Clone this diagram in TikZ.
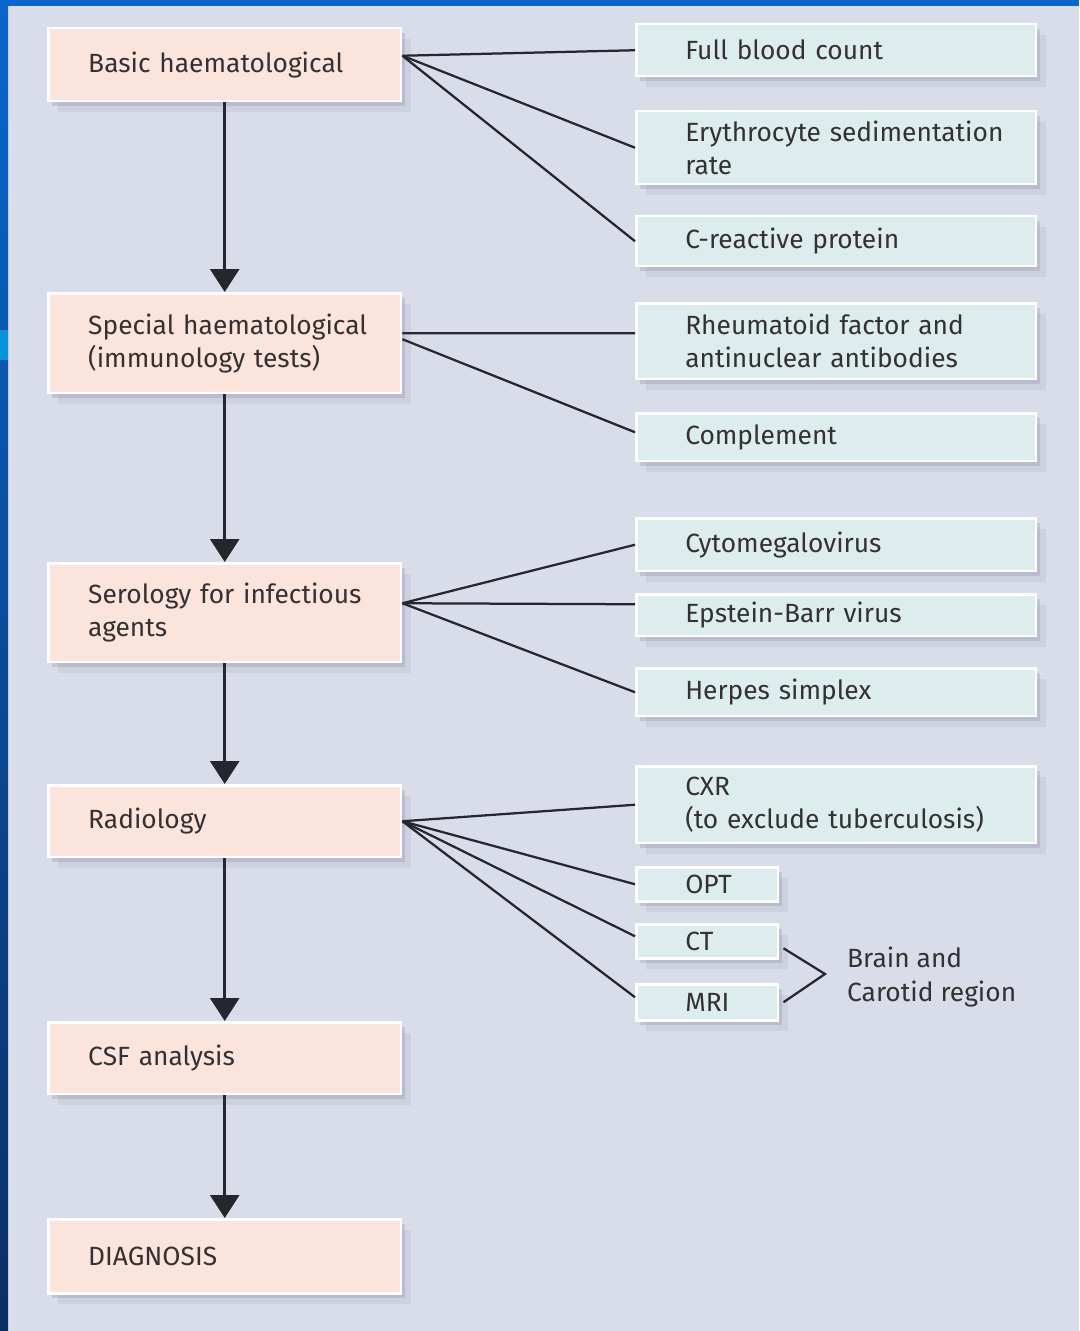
\documentclass[tikz,border=0pt]{standalone}
\usepackage{fontspec}
\setmainfont{Fira Sans}
\usetikzlibrary{arrows.meta,shadows}
\definecolor{slide}{HTML}{D9DDEA}
\definecolor{slideblue}{HTML}{0A66CC}
\definecolor{slidenavy}{HTML}{0B2F63}
\definecolor{peach}{HTML}{FBE4DC}
\definecolor{mint}{HTML}{DDEDEE}
\definecolor{textgrey}{HTML}{343033}
\definecolor{linegrey}{HTML}{26262E}
\definecolor{shade}{HTML}{8A8FA6}

\begin{document}
\begin{tikzpicture}[x=0.02cm, y=-0.02cm, > = {Triangle[width=0.58cm,length=0.46cm]},
    box/.style = {draw=white, line width=0.05cm, anchor=north west, align=left, inner ysep=0.05cm, text=textgrey, font=\fontsize{15}{18.8}\selectfont,
        drop shadow={shadow xshift=0.08cm, shadow yshift=-0.1cm, fill=shade, opacity=0.3},
        drop shadow={shadow xshift=0.2cm, shadow yshift=-0.22cm, fill=shade, opacity=0.15}},
    test/.style = {box, fill=peach, minimum width=7.06cm, text width=5.46cm, inner xsep=0.8cm},
    result/.style = {box, fill=mint, minimum width=8cm, text width=6.04cm, inner xsep=0.98cm},
    scan/.style = {box, fill=mint, minimum width=2.84cm, text width=0.88cm, inner xsep=0.98cm},
    flow/.style = {line width=0.06cm, draw=linegrey, fill=linegrey, ->},
    link/.style = {line width=0.045cm, draw=linegrey}]

    % slide
    \useasboundingbox (0,0) rectangle (1079,1331);
    \fill[slide] (0,0) rectangle (1079,1331);
    \fill[top color=slideblue, bottom color=slidenavy] (0,0) rectangle (8,1331);
    \fill[slideblue!70!cyan] (0,330) rectangle (8,360);
    \fill[slideblue] (0,0) rectangle (1079,6);

    % tests
    \node[test, minimum height=1.46cm] (basic) at (47,27) {Basic haematological};
    \node[test, minimum height=2cm] (special) at (47,292) {\mbox{Special haematological}\\(immunology tests)};
    \node[test, minimum height=1.98cm] (serology) at (47,562) {\mbox{Serology for infectious}\\agents};
    \node[test, minimum height=1.44cm] (radiology) at (47,784) {Radiology};
    \node[test, minimum height=1.44cm] (csf) at (47,1021) {CSF analysis};
    \node[test, minimum height=1.48cm] (diagnosis) at (47,1218) {DIAGNOSIS};

    % results
    \node[result, minimum height=1.04cm] (fbc) at (635,23) {Full blood count};
    \node[result, minimum height=1.46cm] (esr) at (635,110) {\mbox{Erythrocyte sedimentation}\\rate};
    \node[result, minimum height=1cm] (crp) at (635,215) {C-reactive protein};
    \node[result, minimum height=1.52cm] (rf) at (635,302) {Rheumatoid factor and\\antinuclear antibodies};
    \node[result, minimum height=0.96cm] (complement) at (635,412) {Complement};
    \node[result, minimum height=1.06cm] (cmv) at (635,517) {Cytomegalovirus};
    \node[result, minimum height=0.84cm] (ebv) at (635,593) {Epstein-Barr virus};
    \node[result, minimum height=0.96cm] (hsv) at (635,667) {Herpes simplex};
    \node[result, minimum height=1.54cm] (cxr) at (635,765) {CXR\\\mbox{(to exclude tuberculosis)}};
    \node[scan, minimum height=0.68cm] (opt) at (635,866) {OPT};
    \node[scan, minimum height=0.68cm] (ct) at (635,923) {CT};
    \node[scan, minimum height=0.72cm] (mri) at (635,983) {MRI};
    \node[anchor=west, align=left, text=textgrey, font=\fontsize{15}{18.8}\selectfont] (region) at (841,977) {Brain and\\Carotid region};

    % sequence
    \draw[flow] (basic) -- (special);
    \draw[flow] (special) -- (serology);
    \draw[flow] (serology) -- (radiology);
    \draw[flow] (radiology) -- (csf);
    \draw[flow] (csf) -- (diagnosis);

    % links
    \draw[link] ([yshift=0.18cm]basic.east) -- (fbc.west);
    \draw[link] ([yshift=0.18cm]basic.east) -- (esr.west);
    \draw[link] ([yshift=0.18cm]basic.east) -- (crp.west);
    \draw[link] ([yshift=0.2cm]special.east) -- ([yshift=0.16cm]rf.west);
    \draw[link] ([yshift=0.08cm]special.east) -- ([yshift=0.1cm]complement.west);
    \draw[link] ([yshift=0.19cm]serology.east) -- (cmv.west);
    \draw[link] ([yshift=0.19cm]serology.east) -- ([yshift=0.22cm]ebv.west);
    \draw[link] ([yshift=0.19cm]serology.east) -- (hsv.west);
    \draw[link] (radiology.east) -- (cxr.west);
    \draw[link] (radiology.east) -- (opt.west);
    \draw[link] (radiology.east) -- ([yshift=0.1cm]ct.west);
    \draw[link] (radiology.east) -- ([yshift=0.1cm]mri.west);
    \coordinate (brace) at (825,974);
    \draw[link] ([shift={(0.08cm,-0.14cm)}]ct.east) -- (brace) -- ([xshift=0.08cm]mri.east);

\end{tikzpicture}
\end{document}
